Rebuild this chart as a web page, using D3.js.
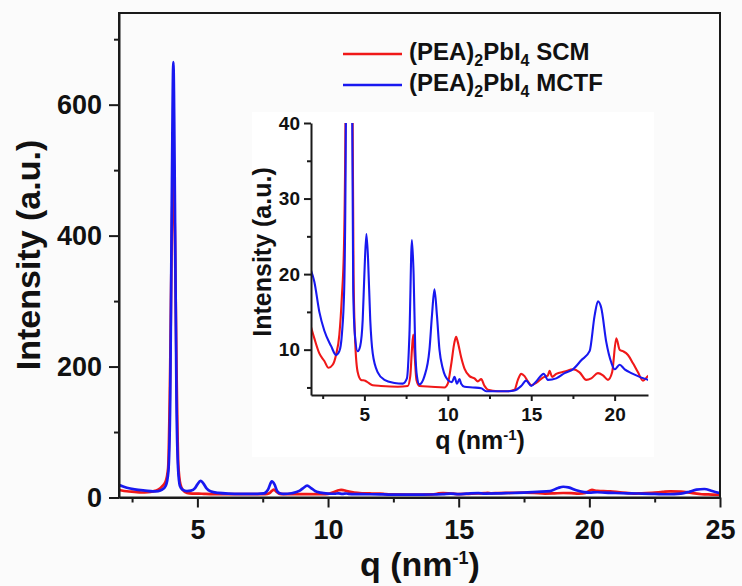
<!DOCTYPE html>
<html>
<head>
<meta charset="utf-8">
<script src="https://cdn.jsdelivr.net/npm/d3@7"></script>
<style>
  body { margin: 0; background: #fbfbfb; }
  svg { display: block; font-family: "Liberation Sans", Arial, sans-serif; font-weight: bold; }
  .axis path, .axis line { stroke: #1a1a1a; stroke-width: 2; }
  .axis text { fill: #111; font-weight: bold; }
</style>
</head>
<body>
<script>
// SCM curve (red)
var qScm = [1.8, 2.0, 2.3, 2.6, 2.85, 3.1, 3.3, 3.5, 3.65, 3.78, 3.88, 3.96, 4.02, 4.08, 4.14, 4.2, 4.27, 4.35, 4.45, 4.6,
  4.8, 5.05, 5.25, 5.5, 6.0, 7.0, 7.6, 7.75, 7.85, 7.93, 8.02, 8.12, 8.3, 9.0, 9.8, 10.0, 10.2, 10.4, 10.5, 10.6,
  10.8, 11.0, 11.3, 11.6, 11.8, 12.0, 12.2, 12.4, 13.0, 13.6, 14.0, 14.2, 14.4, 14.6, 14.8, 15.0, 15.3, 15.7, 16.0, 16.1,
  16.25, 16.5, 17.0, 17.5, 17.9, 18.3, 18.6, 19.0, 19.3, 19.6, 19.85, 20.1, 20.3, 20.5, 20.8, 21.1, 21.4, 21.7, 22.0, 22.4,
  22.8, 23.1, 23.5, 23.9, 24.3, 24.7, 25.0];
var iScm = [13, 11.5, 9.5, 8.5, 7.6, 8, 9.3, 12, 17, 24, 45, 200, 400, 490, 400, 200, 50, 20, 11, 7,
  6, 5.9, 5.6, 5.3, 5.2, 5.1, 5.2, 6.5, 10, 12, 9, 6, 5.2, 5.1, 5.0, 5.5, 8, 11, 11.7, 11,
  9, 7.5, 6.5, 6.2, 5.8, 6.1, 5.2, 4.7, 4.5, 4.5, 4.7, 6, 6.8, 6.5, 5.8, 5.3, 5.6, 6.3, 6.6, 7.2,
  6.4, 6.8, 7.1, 7.4, 7, 6, 6.2, 6.9, 6.6, 6, 7, 11.5, 10, 9.8, 9.3, 8.2, 7, 5.9, 6.5, 7,
  8.5, 9.5, 9, 7, 5, 4.5, 4];

// MCTF curve (blue)
var qMctf = [1.8, 2.0, 2.3, 2.6, 3.0, 3.3, 3.5, 3.65, 3.79, 3.89, 3.96, 4.02, 4.08, 4.14, 4.2, 4.26, 4.33, 4.43, 4.6, 4.75,
  4.9, 5.0, 5.12, 5.22, 5.35, 5.5, 5.8, 6.2, 6.8, 7.3, 7.55, 7.7, 7.85, 7.95, 8.05, 8.15, 8.3, 8.6, 8.9, 9.05,
  9.2, 9.35, 9.5, 9.7, 10.0, 10.25, 10.4, 10.55, 10.7, 10.8, 11.0, 11.5, 12.0, 12.3, 13.0, 13.6, 14.0, 14.4, 14.7, 15.0,
  15.3, 15.75, 16.0, 16.5, 17.0, 17.5, 18.0, 18.5, 18.8, 19.0, 19.2, 19.5, 19.8, 20.0, 20.3, 20.6, 21.0, 21.5, 22.0, 22.5,
  23.0, 23.5, 23.8, 24.1, 24.4, 24.7, 25.0];
var iMctf = [20.5, 19, 15, 12.5, 10.5, 9.3, 9.8, 12, 18, 40, 150, 450, 665, 450, 150, 45, 18, 12, 9.8, 10.5,
  14, 20, 25.3, 22, 14, 9.5, 7, 6, 5.6, 5.5, 6.2, 12, 24.5, 20, 10, 6.5, 5.4, 6.5, 10, 14.5,
  18, 14.5, 10, 7.5, 6, 5.7, 6.4, 5.5, 6.1, 5.5, 5.1, 5.0, 4.9, 4.5, 4.5, 4.5, 4.6, 5.2, 5.9, 5.2,
  5.8, 6.8, 6.0, 6.2, 6.9, 7.4, 8.6, 9.8, 14.5, 16.4, 15.5, 11, 8.3, 7.4, 8, 7.4, 6.9, 6.4, 6, 5.5,
  5, 6, 8.5, 12, 13, 10, 6.5];

var mainXTicks = [5, 10, 15, 20, 25];
var mainXMinor = [2.5, 7.5, 12.5, 17.5, 22.5];
var mainYTicks = [0, 200, 400, 600];
var mainYMinor = [100, 300, 500, 700];
var insetXTicks = [5, 10, 15, 20];
var insetXMinor = [2.5, 7.5, 12.5, 17.5];
var insetYTicks = [10, 20, 30, 40];
var insetYMinor = [5, 15, 25, 35];

var seriesNames = ["SCM", "MCTF"];
var colors = ["#f01818", "#1818f0"];

var scm = qScm.map(function(q, i) { return [q, iScm[i]]; });
var mctf = qMctf.map(function(q, i) { return [q, iMctf[i]]; });
var allSeries = [scm, mctf];

var w = 742, h = 586;
var svg = d3.select("body").append("svg").attr("width", w).attr("height", h);

// main plot
var x = d3.scaleLinear().domain([2, 25]).range([119, 720]);
var y = d3.scaleLinear().domain([0, 740]).range([497.5, 13]);

svg.append("clipPath").attr("id", "clipMain").append("rect")
  .attr("x", 119).attr("y", 13).attr("width", 601).attr("height", 484.5);

var line = d3.line().x(function(d) { return x(d[0]); }).y(function(d) { return y(d[1]); })
  .curve(d3.curveMonotoneX);

svg.append("g").attr("clip-path", "url(#clipMain)")
  .selectAll("path").data(allSeries).enter().append("path")
  .attr("d", line)
  .attr("fill", "none")
  .attr("stroke", function(d, i) { return colors[i]; })
  .attr("stroke-width", 2.7)
  .attr("stroke-linejoin", "round");

// frame
svg.append("rect").attr("x", 119).attr("y", 13).attr("width", 601).attr("height", 484.5)
  .attr("fill", "none").attr("stroke", "#1a1a1a").attr("stroke-width", 2);

var xAxis = svg.append("g").attr("class", "axis").attr("transform", "translate(0,497.5)")
  .call(d3.axisBottom(x).tickValues(mainXTicks).tickSize(10).tickSizeOuter(0).tickPadding(12));
xAxis.selectAll("text").style("font-size", "27px");
svg.append("g").attr("class", "axis").attr("transform", "translate(0,497.5)")
  .call(d3.axisBottom(x).tickValues(mainXMinor).tickSize(5).tickSizeOuter(0).tickFormat(""))
  .select(".domain").remove();

var yAxis = svg.append("g").attr("class", "axis").attr("transform", "translate(119,0)")
  .call(d3.axisLeft(y).tickValues(mainYTicks).tickSize(10).tickSizeOuter(0).tickPadding(7));
yAxis.selectAll("text").style("font-size", "27px");
svg.append("g").attr("class", "axis").attr("transform", "translate(119,0)")
  .call(d3.axisLeft(y).tickValues(mainYMinor).tickSize(5).tickSizeOuter(0).tickFormat(""))
  .select(".domain").remove();

// axis titles
var xt = svg.append("text").attr("x", 420).attr("y", 576).attr("text-anchor", "middle")
  .style("font-size", "34px").attr("fill", "#111");
xt.append("tspan").text("q (nm");
xt.append("tspan").text("-1").style("font-size", "18px").attr("dy", -12);
xt.append("tspan").text(")").attr("dy", 12);

svg.append("text").attr("transform", "translate(40,255) rotate(-90)").attr("text-anchor", "middle")
  .style("font-size", "34px").attr("fill", "#111").text("Intensity (a.u.)");

// legend
var legend = svg.selectAll("g.legend").data(seriesNames).enter().append("g").attr("class", "legend")
  .attr("transform", function(d, i) { return "translate(0," + (54 + i * 31) + ")"; });
legend.append("line").attr("x1", 343).attr("x2", 402).attr("y1", 0).attr("y2", 0)
  .attr("stroke", function(d, i) { return colors[i]; }).attr("stroke-width", 2.6);
var lt = legend.append("text").attr("x", 409).attr("y", 6).style("font-size", "24px").attr("fill", "#111");
lt.append("tspan").text("(PEA)");
lt.append("tspan").text("2").style("font-size", "16px").attr("dy", 6);
lt.append("tspan").text("PbI").attr("dy", -6);
lt.append("tspan").text("4").style("font-size", "16px").attr("dy", 6);
lt.append("tspan").text(function(d) { return " " + d; }).attr("dy", -6);

// inset
var ix = d3.scaleLinear().domain([1.8, 22]).range([311, 648]);
var iy = d3.scaleLinear().domain([4, 40]).range([395, 123]);

svg.append("rect").attr("x", 252).attr("y", 112).attr("width", 402).attr("height", 345).attr("fill", "#ffffff");

svg.append("clipPath").attr("id", "clipInset").append("rect")
  .attr("x", 311).attr("y", 123).attr("width", 337).attr("height", 272);

var iline = d3.line().x(function(d) { return ix(d[0]); }).y(function(d) { return iy(d[1]); })
  .curve(d3.curveMonotoneX);

svg.append("g").attr("clip-path", "url(#clipInset)")
  .selectAll("path").data(allSeries).enter().append("path")
  .attr("d", iline)
  .attr("fill", "none")
  .attr("stroke", function(d, i) { return colors[i]; })
  .attr("stroke-width", 2.1)
  .attr("stroke-linejoin", "round");

var ixAxis = svg.append("g").attr("class", "axis").attr("transform", "translate(0,395)")
  .call(d3.axisBottom(ix).tickValues(insetXTicks).tickSize(6).tickSizeOuter(0).tickPadding(7));
ixAxis.selectAll("text").style("font-size", "19px");
svg.append("g").attr("class", "axis").attr("transform", "translate(0,395)")
  .call(d3.axisBottom(ix).tickValues(insetXMinor).tickSize(4).tickSizeOuter(0).tickFormat(""))
  .select(".domain").remove();

var iyAxis = svg.append("g").attr("class", "axis").attr("transform", "translate(311,0)")
  .call(d3.axisLeft(iy).tickValues(insetYTicks).tickSize(7).tickSizeOuter(0).tickPadding(4));
iyAxis.selectAll("text").style("font-size", "19px");
svg.append("g").attr("class", "axis").attr("transform", "translate(311,0)")
  .call(d3.axisLeft(iy).tickValues(insetYMinor).tickSize(4).tickSizeOuter(0).tickFormat(""))
  .select(".domain").remove();

var ixt = svg.append("text").attr("x", 480).attr("y", 449).attr("text-anchor", "middle")
  .style("font-size", "25px").attr("fill", "#111");
ixt.append("tspan").text("q (nm");
ixt.append("tspan").text("-1").style("font-size", "15px").attr("dy", -9);
ixt.append("tspan").text(")").attr("dy", 9);

svg.append("text").attr("transform", "translate(271,252) rotate(-90)").attr("text-anchor", "middle")
  .style("font-size", "25px").attr("fill", "#111").text("Intensity (a.u.)");
</script>
</body>
</html>
